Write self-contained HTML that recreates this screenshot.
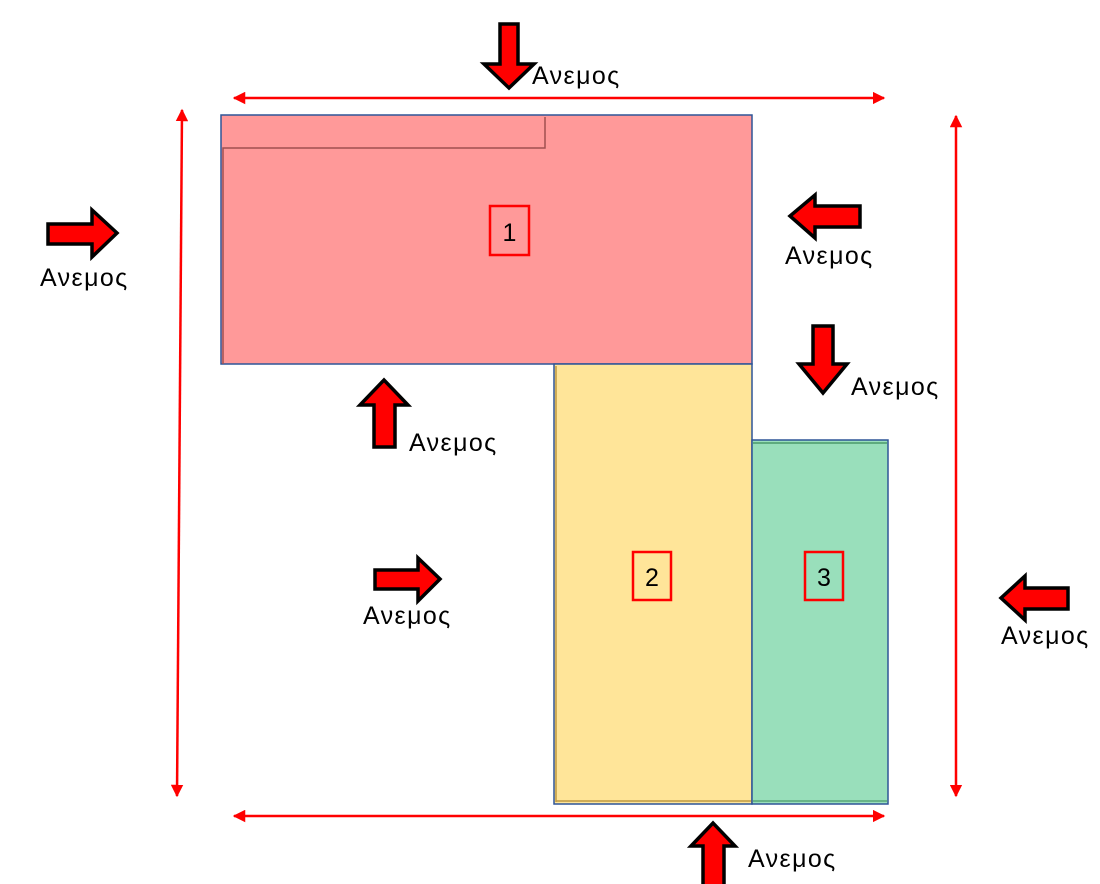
<!DOCTYPE html>
<html><head><meta charset="utf-8"><style>
html,body{margin:0;padding:0;background:#fff;width:1100px;height:884px;overflow:hidden}
text{font-family:"Liberation Sans","DejaVu Sans",sans-serif;font-size:25px;fill:#000}
.w{letter-spacing:1.4px}
</style></head><body>
<svg width="1100" height="884" viewBox="0 0 1100 884" xmlns="http://www.w3.org/2000/svg">
<defs>
<marker id="ah" viewBox="0 0 10 10" refX="9" refY="5" markerWidth="5" markerHeight="5" orient="auto-start-reverse"><path d="M0,0 L10,5 L0,10 z" fill="#f00"/></marker>
</defs>
<line x1="234" y1="98" x2="884" y2="98" stroke="#f00" stroke-width="2.5" marker-start="url(#ah)" marker-end="url(#ah)"/>
<line x1="234" y1="816" x2="884" y2="816" stroke="#f00" stroke-width="2.5" marker-start="url(#ah)" marker-end="url(#ah)"/>
<line x1="182" y1="110" x2="177" y2="796" stroke="#f00" stroke-width="2.5" marker-start="url(#ah)" marker-end="url(#ah)"/>
<line x1="956" y1="116" x2="956" y2="796" stroke="#f00" stroke-width="2.5" marker-start="url(#ah)" marker-end="url(#ah)"/>
<rect x="221" y="115" width="531" height="249" fill="#ff9999" stroke="#2f5597" stroke-width="1.5"/>
<path d="M223,364 L223,148 L545,148 L545,117" fill="none" stroke="#a05050" stroke-width="1.5"/>
<rect x="554" y="364" width="198" height="440" fill="#ffe599" stroke="#2f5597" stroke-width="1.5"/>
<line x1="556" y1="366" x2="556" y2="802" stroke="#bf9a40" stroke-width="1.5"/>
<line x1="556" y1="801" x2="752" y2="801" stroke="#bf9a40" stroke-width="1.5"/>
<rect x="752" y="440" width="136" height="364" fill="#99dfbb" stroke="#2f5597" stroke-width="1.5"/>
<line x1="753" y1="443" x2="887" y2="443" stroke="#4a9a6a" stroke-width="1.5"/>
<line x1="753" y1="801" x2="887" y2="801" stroke="#4a9a6a" stroke-width="1.2"/>
<rect x="490" y="206" width="39" height="49" fill="none" stroke="#f00" stroke-width="2.5"/>
<text x="509.5" y="241" text-anchor="middle">1</text>
<rect x="633" y="552" width="38" height="48" fill="none" stroke="#f00" stroke-width="2.5"/>
<text x="652" y="586" text-anchor="middle">2</text>
<rect x="805" y="552" width="38" height="48" fill="none" stroke="#f00" stroke-width="2.5"/>
<text x="824" y="586" text-anchor="middle">3</text>
<g fill="#f00" stroke="#000" stroke-width="3.5" stroke-linejoin="miter">
<path d="M500,24 L518,24 L518,64 L534,64 L509,88 L484,64 L500,64 Z"/>
<path d="M48,224 L92,224 L92,210 L117,233 L92,257 L92,244 L48,244 Z"/>
<path d="M860,206 L815,206 L815,195 L790,216 L815,238 L815,227 L860,227 Z"/>
<path d="M813,326 L833,326 L833,364 L847,364 L823,393 L799,364 L813,364 Z"/>
<path d="M374,447 L395,447 L395,405 L408,405 L384,380 L360,405 L374,405 Z"/>
<path d="M375,570 L418,570 L418,558 L440,579 L418,601 L418,589 L375,589 Z"/>
<path d="M1068,588 L1025,588 L1025,576 L1001,598 L1025,620 L1025,609 L1068,609 Z"/>
<path d="M703,890 L724,890 L724,846 L735,846 L713,823 L691,846 L703,846 Z"/>
</g>
<text class="w" x="532" y="84">Ανεμος</text>
<text class="w" x="40" y="286">Ανεμος</text>
<text class="w" x="785" y="264">Ανεμος</text>
<text class="w" x="851" y="395">Ανεμος</text>
<text class="w" x="409" y="451">Ανεμος</text>
<text class="w" x="363" y="624">Ανεμος</text>
<text class="w" x="1001" y="644">Ανεμος</text>
<text class="w" x="748" y="867">Ανεμος</text>
</svg>
</body></html>
